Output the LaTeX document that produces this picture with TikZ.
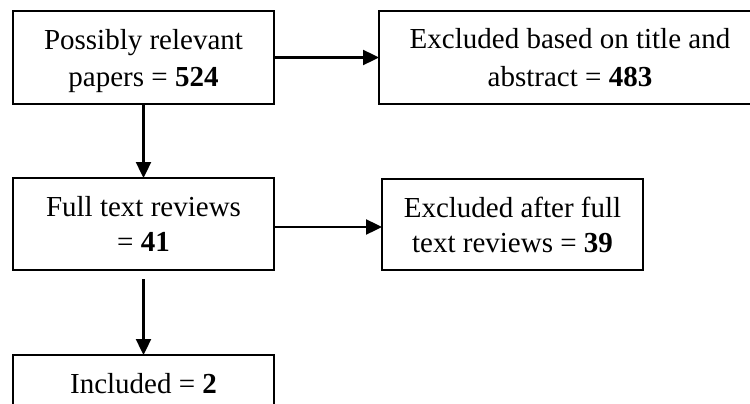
\documentclass[tikz,border=0pt]{standalone}
\usepackage{fontspec}
\setmainfont{Liberation Serif}
\usetikzlibrary{arrows.meta}
\begin{document}
\begin{tikzpicture}[x=1pt,y=-1pt,
  box/.style={draw, line width=2.4pt, inner sep=0pt, outer sep=0pt},
  txt/.style={anchor=base, inner sep=0pt, font=\fontsize{29}{35}\selectfont},
  arr/.style={line width=2.4pt, -{Triangle[length=16pt,width=15pt]}}]
\useasboundingbox (0,0) rectangle (750,404);
\clip (0,0) rectangle (750,404);
\fill[white] (0,0) rectangle (750,404);
% boxes
\node[box, minimum width=261pt, minimum height=93pt] (b1) at (143.5,57.5) {};
\node[box, minimum width=382pt, minimum height=93pt] (b2) at (570,57.5) {};
\node[box, minimum width=261pt, minimum height=92pt] (b3) at (143.5,224) {};
\node[box, minimum width=261pt, minimum height=91pt] (b4) at (512.5,224.5) {};
\node[box, minimum width=261pt, minimum height=92pt] (b5) at (143.5,401) {};
% texts
\node[txt] (t1a) at (143.5,50) {Possibly relevant};
\node[txt] (t1b) at (143.5,86) {papers = \textbf{524}};
\node[txt] (t2a) at (570,49) {Excluded based on title and};
\node[txt] (t2b) at (570,86) {abstract = \textbf{483}};
\node[txt] (t3a) at (143.5,216) {Full text reviews};
\node[txt] (t3b) at (143.5,251) {= \textbf{41}};
\node[txt] (t4a) at (512.5,217) {Excluded after full};
\node[txt] (t4b) at (512.5,252) {text reviews = \textbf{39}};
\node[txt] (t5) at (143.5,393) {Included = \textbf{2}};
% connectors
\draw[arr] (b1.east) -- (b2.west);
\draw[arr] (b1.south) -- (b3.north);
\draw[arr] ([yshift=-3pt]b3.east) -- ([yshift=-3pt]b3.east -| b4.west);
\draw[arr, shorten <=9pt] (b3.south) -- (b5.north);
\end{tikzpicture}
\end{document}
